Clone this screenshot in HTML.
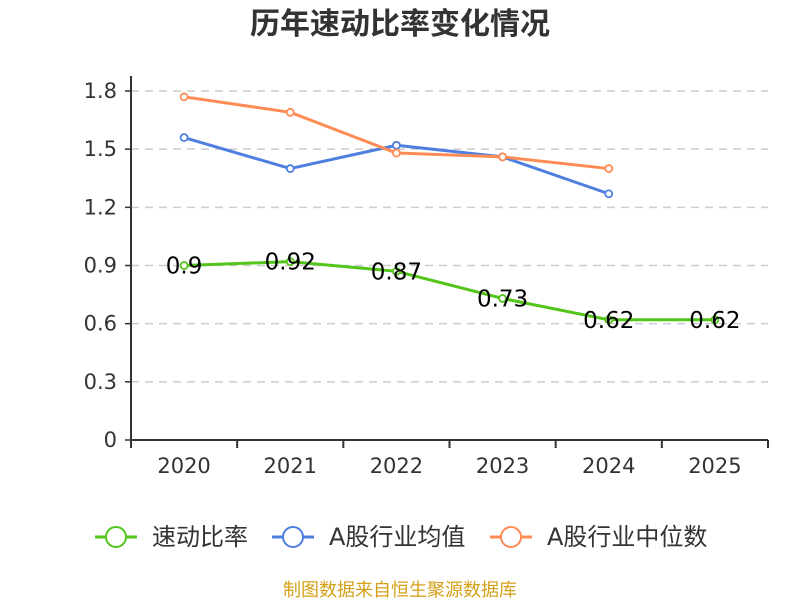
<!DOCTYPE html>
<html><head><meta charset="utf-8"><style>
html,body{margin:0;padding:0;background:#fff;}
svg{display:block;font-family:"DejaVu Sans","Liberation Sans","Noto Sans CJK SC",sans-serif;}
</style></head><body>
<svg id="c" width="800" height="600">
<text x="400" y="34" text-anchor="middle" font-size="30" font-weight="bold" fill="#333" font-family="'Noto Sans CJK SC',sans-serif">历年速动比率变化情况</text>
<g id="grid"></g><g id="axes"></g><g id="series"></g>
<g id="legend"></g>
<text x="400" y="596" text-anchor="middle" font-size="18" fill="#d4a017" font-family="'Noto Sans CJK SC',sans-serif">制图数据来自恒生聚源数据库</text>
</svg>
<script>
const categories=["2020","2021","2022","2023","2024","2025"];
const quickRatio=[0.9,0.92,0.87,0.73,0.62,0.62];
const industryAvg=[1.56,1.40,1.52,1.46,1.27];
const industryMedian=[1.77,1.69,1.48,1.46,1.40];
const yTicks=[0,0.3,0.6,0.9,1.2,1.5,1.8];
const quickLabels=["0.9","0.92","0.87","0.73","0.62","0.62"];

const NS="http://www.w3.org/2000/svg";
const L=131,R=768,T=91,B=440,yMax=1.8;
const bw=(R-L)/categories.length;
const xS=i=>L+bw*(i+0.5);
const yS=v=>B-(v/yMax)*(B-T);
function mk(tag,attrs,parent){const e=document.createElementNS(NS,tag);for(const k in attrs)e.setAttribute(k,attrs[k]);parent.appendChild(e);return e;}
const grid=document.getElementById('grid'),axes=document.getElementById('axes'),ser=document.getElementById('series'),leg=document.getElementById('legend');
yTicks.forEach(v=>{
  if(v>0){const g=mk('line',{x1:L,x2:R,y1:yS(v),y2:yS(v),stroke:'#ccc','stroke-dasharray':'8,6','stroke-width':1.5},grid);
  
  }
  const tk=mk('line',{x1:L-6,x2:L,y1:yS(v),y2:yS(v),stroke:'#333','stroke-width':1.5},axes);
  
  
  const t=mk('text',{x:L-14,y:yS(v)+7,'text-anchor':'end','font-size':21,fill:'#333'},axes);t.textContent=String(v);
  
  
});
const ya=mk('line',{x1:L,x2:L,y1:T-15,y2:B,stroke:'#333','stroke-width':2},axes);


const xa=mk('line',{x1:L,x2:R,y1:B,y2:B,stroke:'#333','stroke-width':2},axes);


for(let i=0;i<=categories.length;i++){const tk=mk('line',{x1:L+bw*i,x2:L+bw*i,y1:B,y2:B+8,stroke:'#333','stroke-width':2},axes);

}
categories.forEach((c,i)=>{const t=mk('text',{x:xS(i),y:B+33,'text-anchor':'middle','font-size':21,fill:'#333'},axes);t.textContent=c;

});
function series(vals,color,name){
  const g=mk('g',{},ser);
  
  
  mk('polyline',{points:vals.map((v,i)=>xS(i)+','+yS(v)).join(' '),fill:'none',stroke:color,'stroke-width':3,'stroke-linejoin':'round'},g);
  vals.forEach((v,i)=>{const p=mk('circle',{cx:xS(i),cy:yS(v),r:3.5,fill:'#fff',stroke:color,'stroke-width':1.8},g);
  
  });
}
series(industryAvg,'#4e7fe0','series-industry-average');
series(industryMedian,'#ff8c55','series-industry-median');
series(quickRatio,'#52c41a','series-quick-ratio');
quickRatio.forEach((v,i)=>{const t=mk('text',{x:xS(i),y:yS(v)+8,'text-anchor':'middle','font-size':23,fill:'#000'},ser);t.textContent=quickLabels[i];

});
[['速动比率','#52c41a',95],['A股行业均值','#4e7fe0',272],['A股行业中位数','#ff8c55',490]].forEach(([n,c,x])=>{
  const g=mk('g',{},leg);
  
  
  mk('line',{x1:x,x2:x+42,y1:537,y2:537,stroke:c,'stroke-width':3},g);
  mk('circle',{cx:x+21,cy:537,r:10,fill:'#fff',stroke:c,'stroke-width':2},g);
  const t=mk('text',{x:x+57,y:545,'font-size':24,fill:'#333'},g);t.textContent=n;
});
</script>
</body></html>
